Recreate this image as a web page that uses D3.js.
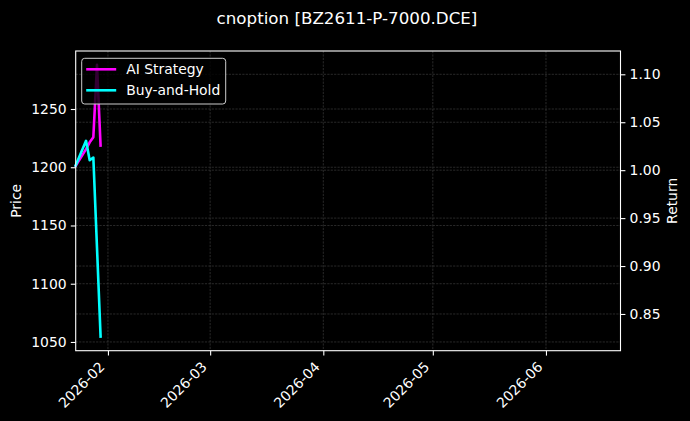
<!DOCTYPE html>
<html>
<head>
<meta charset="utf-8">
<script src="https://cdn.jsdelivr.net/npm/d3@7"></script>
<style>
  html, body { margin: 0; padding: 0; background: #000; }
  text { font-family: "DejaVu Sans", sans-serif; fill: #fff; }
</style>
</head>
<body>
<div id="chart"></div>
<script>
// Data
var dates = ["2026-01-23", "2026-01-26", "2026-01-27", "2026-01-28", "2026-01-29", "2026-01-30"];
var aiStrategy = [1.0035, 1.0220, 1.0290, 1.0344, 1.1100, 1.0243];
var buyHold = [1.0035, 1.0306, 1.0104, 1.0132, 0.9192, 0.8251];
var priceTicks = [1050, 1100, 1150, 1200, 1250];
var returnTicks = [0.85, 0.90, 0.95, 1.00, 1.05, 1.10];
var dateTicks = ["2026-02", "2026-03", "2026-04", "2026-05", "2026-06"];
var seriesNames = ["AI Strategy", "Buy-and-Hold"];
var seriesColors = ["#ff00ff", "#00ffff"];

// Setup
var width = 690, height = 421;
var margin = {left: 75.7, top: 51, right: 69.5, bottom: 70.3};
var chart_width = width - margin.left - margin.right;
var chart_height = height - margin.top - margin.bottom;

var parseDay = d3.timeParse("%Y-%m-%d");
var parseMonth = d3.timeParse("%Y-%m");

var x = d3.scaleTime()
  .domain([new Date(2026, 0, 23, 4), new Date(2026, 5, 21, 10)])
  .range([0, chart_width]);
var yPrice = d3.scaleLinear().domain([1042.5, 1299.8]).range([chart_height, 0]);
var yReturn = d3.scaleLinear().domain([0.8117, 1.1243]).range([chart_height, 0]);

var svg = d3.select("#chart").append("svg")
  .attr("width", width)
  .attr("height", height)
  .style("background", "#000");

svg.append("text")
  .attr("x", 347)
  .attr("y", 24)
  .attr("text-anchor", "middle")
  .style("font-size", "16.7px")
  .text("cnoption [BZ2611-P-7000.DCE]");

var g = svg.append("g")
  .attr("transform", "translate(" + margin.left + "," + margin.top + ")");

// Grid
var grid = g.append("g").attr("class", "grid")
  .attr("stroke", "#444")
  .attr("stroke-width", 0.6)
  .attr("stroke-dasharray", "2.2,1.2");

grid.selectAll(".gx").data(dateTicks).enter().append("line")
  .attr("x1", function(d){ return x(parseMonth(d)); })
  .attr("x2", function(d){ return x(parseMonth(d)); })
  .attr("y1", 0).attr("y2", chart_height);
grid.selectAll(".gp").data(priceTicks).enter().append("line")
  .attr("x1", 0).attr("x2", chart_width)
  .attr("y1", function(d){ return yPrice(d); })
  .attr("y2", function(d){ return yPrice(d); });
grid.selectAll(".gr").data(returnTicks).enter().append("line")
  .attr("x1", 0).attr("x2", chart_width)
  .attr("y1", function(d){ return yReturn(d); })
  .attr("y2", function(d){ return yReturn(d); });

// Lines
g.append("clipPath").attr("id", "clip")
  .append("rect").attr("x", -2).attr("width", chart_width + 2).attr("height", chart_height);

var line = d3.line()
  .x(function(d, i){ return x(parseDay(dates[i])); })
  .y(function(d){ return yReturn(d); });

[aiStrategy, buyHold].forEach(function(values, i){
  g.append("path")
    .datum(values)
    .attr("clip-path", "url(#clip)")
    .attr("d", line)
    .attr("fill", "none")
    .attr("stroke", seriesColors[i])
    .attr("stroke-width", 2.6)
    .attr("stroke-linejoin", "round");
});

// Axes
function styleAxis(sel) {
  sel.select(".domain").remove();
  sel.selectAll(".tick line").attr("stroke", "#fff").attr("stroke-width", 1.1);
  sel.selectAll(".tick text").style("font-size", "13.9px").attr("fill", "#fff");
}

var xAxis = g.append("g")
  .attr("transform", "translate(0," + chart_height + ")")
  .call(d3.axisBottom(x)
    .tickValues(dateTicks.map(parseMonth))
    .tickSize(4.9)
    .tickFormat(d3.timeFormat("%Y-%m")))
  .call(styleAxis);
xAxis.selectAll(".tick text")
  .attr("text-anchor", "end")
  .attr("dy", null)
  .attr("y", null)
  .attr("transform", "translate(-3,17) rotate(-45)");

g.append("g")
  .call(d3.axisLeft(yPrice).tickValues(priceTicks).tickSize(4.9).tickPadding(4.2)
    .tickFormat(d3.format("d")))
  .call(styleAxis);

g.append("g")
  .attr("transform", "translate(" + chart_width + ",0)")
  .call(d3.axisRight(yReturn).tickValues(returnTicks).tickSize(4.9).tickPadding(4.2)
    .tickFormat(d3.format(".2f")))
  .call(styleAxis);

g.append("rect")
  .attr("width", chart_width)
  .attr("height", chart_height)
  .attr("fill", "none")
  .attr("stroke", "#fff")
  .attr("stroke-width", 1.1);

// Axis labels
svg.append("text")
  .attr("transform", "translate(21," + (margin.top + chart_height / 2) + ") rotate(-90)")
  .attr("text-anchor", "middle")
  .style("font-size", "13.9px")
  .text("Price");

svg.append("text")
  .attr("transform", "translate(677," + (margin.top + chart_height / 2) + ") rotate(-90)")
  .attr("text-anchor", "middle")
  .style("font-size", "13.9px")
  .text("Return");

// Legend
var legend = g.append("g").attr("transform", "translate(6,7.3)");
legend.append("rect")
  .attr("width", 144)
  .attr("height", 45.7)
  .attr("rx", 3)
  .attr("fill", "#000")
  .attr("fill-opacity", 0.8)
  .attr("stroke", "#ccc")
  .attr("stroke-width", 1);

seriesNames.forEach(function(name, i){
  var ly = 11 + i * 21;
  legend.append("line")
    .attr("x1", 4.5).attr("x2", 34.5)
    .attr("y1", ly).attr("y2", ly)
    .attr("stroke", seriesColors[i])
    .attr("stroke-width", 2.6);
  legend.append("text")
    .attr("x", 44.5)
    .attr("y", ly + 5)
    .style("font-size", "13.9px")
    .text(name);
});
</script>
</body>
</html>
